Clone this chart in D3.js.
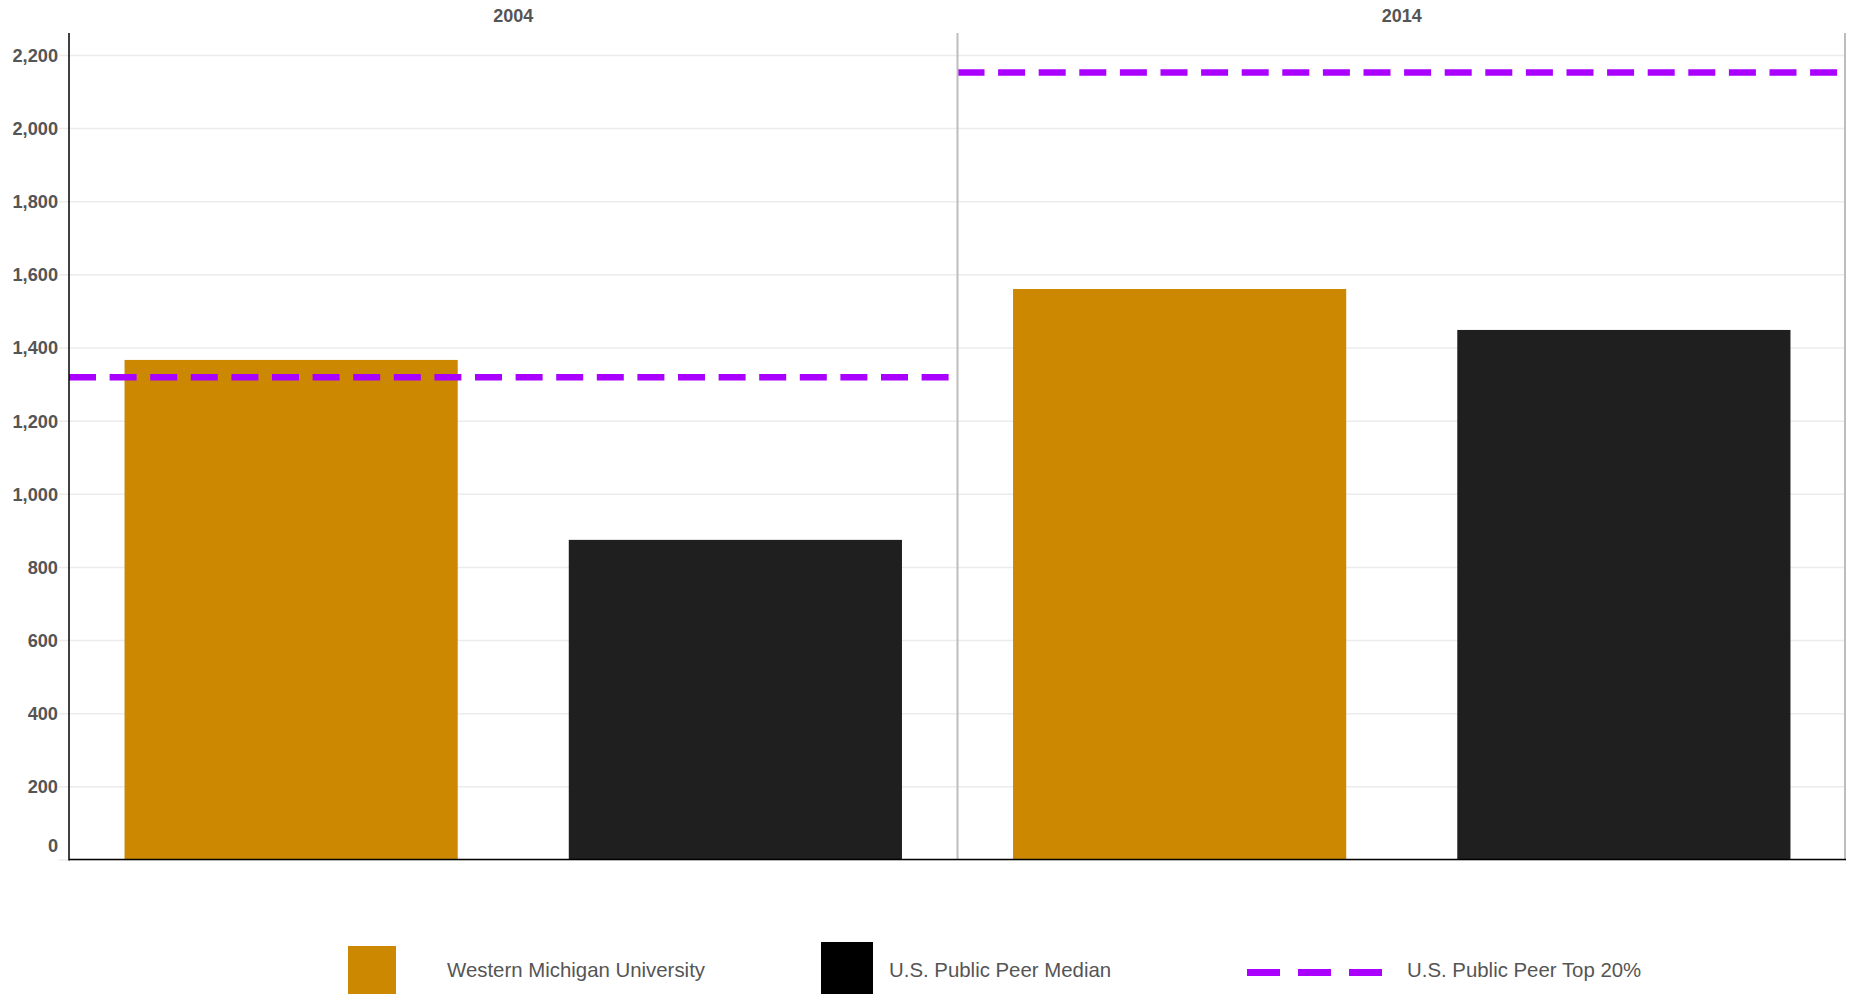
<!DOCTYPE html>
<html>
<head>
<meta charset="utf-8">
<script src="https://cdn.jsdelivr.net/npm/d3@7"></script>
<style>
  html, body { margin: 0; padding: 0; background: #fff; }
  svg { display: block; font-family: "Liberation Sans", Arial, sans-serif; }
</style>
</head>
<body>
<svg id="chart" width="1852" height="994"></svg>
<script>
// ---- data ----
const years = ["2004", "2014"];
const seriesNames = ["Western Michigan University", "U.S. Public Peer Median"];
const wmuValues = [1366, 1560];
const medianValues = [874, 1448];
const top20Values = [1319, 2152];
const yTicks = [0, 200, 400, 600, 800, 1000, 1200, 1400, 1600, 1800, 2000, 2200];
const legendLabels = ["Western Michigan University", "U.S. Public Peer Median", "U.S. Public Peer Top 20%"];

(function () {
// ---- layout ----
const plotLeft = 69, plotRight = 1846, plotTop = 33, plotBottom = 859.5;
const colors = { wmu: "#cc8800", median: "#1f1f1f", top20: "#aa00ff" };
const textColor = "#555555";

const svg = d3.select("#chart");

const yearScale = d3.scaleBand().domain(years).range([plotLeft, plotRight]).padding(0);
const seriesScale = d3.scaleBand().domain(seriesNames)
  .range([0, yearScale.bandwidth()]).paddingInner(0.25).paddingOuter(0.125);
const y = d3.scaleLinear().domain([0, 2260]).range([plotBottom, plotTop]);

// gridlines + ticks
const yAxis = d3.axisLeft(y).tickValues(yTicks)
  .tickSize(-(plotRight - plotLeft)).tickPadding(12)
  .tickFormat(d3.format(","));
const gAxis = svg.append("g").attr("transform", `translate(${plotLeft},0)`).call(yAxis);
gAxis.select(".domain").remove();
gAxis.selectAll(".tick line")
  .attr("x1", -10)
  .attr("stroke", "#ececec").attr("stroke-width", 1.5);
gAxis.selectAll(".tick text")
  .attr("fill", textColor).attr("font-size", 18.2).attr("font-weight", "bold")
  .attr("x", -11)
  .attr("dy", d => d === 0 ? "-0.42em" : "0.35em");

// panels
const rows = years.map((yr, i) => ({
  year: yr,
  values: [wmuValues[i], medianValues[i]],
  top20: top20Values[i]
}));

const panel = svg.selectAll("g.panel").data(rows).join("g")
  .attr("class", "panel")
  .attr("transform", d => `translate(${yearScale(d.year)},0)`);

panel.selectAll("rect.bar")
  .data(d => d.values.map((v, j) => ({ name: seriesNames[j], value: v, j: j })))
  .join("rect").attr("class", "bar")
  .attr("x", d => seriesScale(d.name))
  .attr("width", seriesScale.bandwidth())
  .attr("y", d => y(d.value))
  .attr("height", d => y(0) - y(d.value))
  .attr("fill", d => d.j === 0 ? colors.wmu : colors.median);

panel.append("line")
  .attr("x1", 0).attr("x2", yearScale.bandwidth())
  .attr("y1", d => y(d.top20)).attr("y2", d => y(d.top20))
  .attr("stroke", colors.top20).attr("stroke-width", 6.5)
  .attr("stroke-dasharray", "27,13.6");

// panel headers
svg.selectAll("text.year").data(years).join("text").attr("class", "year")
  .attr("x", d => yearScale(d) + yearScale.bandwidth() / 2)
  .attr("y", 22)
  .attr("text-anchor", "middle")
  .attr("font-size", 18).attr("font-weight", "bold").attr("fill", textColor)
  .text(d => d);

// panel dividers and right frame
const dividerX = years.slice(1).map(d => yearScale(d)).concat([plotRight - 1]);
svg.selectAll("line.div").data(dividerX).join("line").attr("class", "div")
  .attr("x1", d => d).attr("x2", d => d)
  .attr("y1", plotTop).attr("y2", plotBottom)
  .attr("stroke", "#bdbdbd").attr("stroke-width", 2);

// axis lines
svg.append("line").attr("x1", plotLeft).attr("x2", plotLeft).attr("y1", plotTop).attr("y2", plotBottom + 1)
  .attr("stroke", "#000").attr("stroke-width", 1.5);
svg.append("line").attr("x1", plotLeft).attr("x2", plotRight).attr("y1", plotBottom).attr("y2", plotBottom)
  .attr("stroke", "#000").attr("stroke-width", 1.5);

// legend
const lg = svg.append("g");
lg.append("rect").attr("x", 348).attr("y", 946).attr("width", 48).attr("height", 48).attr("fill", colors.wmu);
lg.append("rect").attr("x", 821).attr("y", 942).attr("width", 52).attr("height", 52).attr("fill", "#000");
lg.append("line").attr("x1", 1247).attr("x2", 1383).attr("y1", 972.5).attr("y2", 972.5)
  .attr("stroke", colors.top20).attr("stroke-width", 7).attr("stroke-dasharray", "33,18");
const legendX = [447, 889, 1407];
lg.selectAll("text").data(legendLabels).join("text")
  .attr("x", (d, i) => legendX[i]).attr("y", 977)
  .attr("font-size", 20.4).attr("fill", textColor)
  .text(d => d);
})();
</script>
</body>
</html>
